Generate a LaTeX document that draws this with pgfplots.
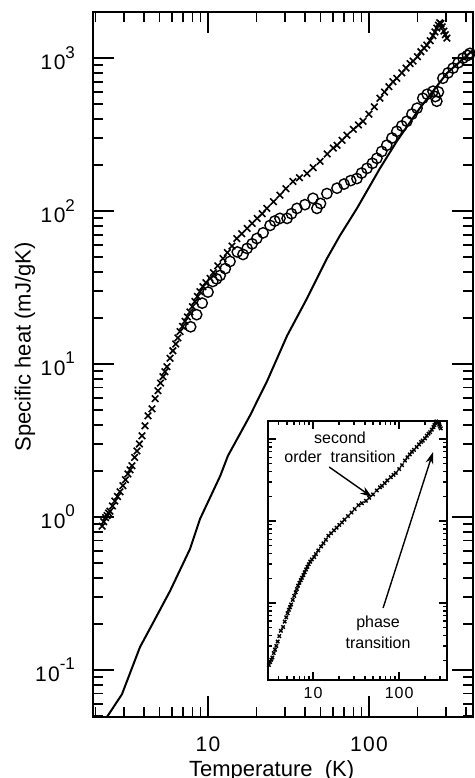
\documentclass[border=0pt]{standalone}
\usepackage{fontspec}
\setmainfont{Liberation Sans}
\usepackage{pgfplots}
\pgfplotsset{compat=1.18}
\usepackage{pgfplotstable}
\usetikzlibrary{arrows.meta}

% tick label like "10^3" with a full-size, raised exponent
\newcommand{\dec}[1]{1\kern0.7pt0\raisebox{0.55em}{\fontsize{8.5}{9}\selectfont #1}}

% sample with the two transitions (crosses)
\pgfplotstableread{
T C
2.20 0.87
2.25 0.93
2.31 0.99
2.36 1.02
2.41 1.06
2.46 1.09
2.55 1.18
2.64 1.27
2.74 1.36
2.84 1.46
2.96 1.60
3.07 1.75
3.18 1.91
3.28 2.03
3.37 2.16
3.50 2.45
3.62 2.70
3.75 3.00
3.89 3.39
4.06 3.94
4.24 4.58
4.49 5.09
4.69 5.93
4.89 6.69
5.07 7.50
5.25 8.26
5.40 8.90
5.56 9.60
5.81 10.9
6.05 12.2
6.30 13.5
6.50 14.8
6.70 16.3
6.95 17.6
7.20 19.0
7.45 20.3
7.73 21.9
8.00 23.7
8.30 25.6
8.60 27.6
8.92 29.7
9.30 32.0
9.70 34.0
10.3 36.3
10.8 39.5
11.5 43.8
12.4 48.9
13.2 53.5
14.1 59.0
15.1 66.1
16.2 71.0
17.5 76.9
18.8 83.0
20.2 89.5
21.7 96.0
23.2 104
25.5 115
28.0 127
30.5 140
33.7 156
37.0 165
41.2 176
45.0 192
49.7 211
55.0 236
60.0 258
63.3 269
68.0 290
73.0 313
80.0 342
86.0 365
91.8 386
100 430
108 480
117 546
125 600
133 650
141 700
149 738
160 800
170 860
180 920
188 955
200 1020
210 1100
220 1160
229 1216
240 1300
250 1400
257 1480
264 1570
270 1640
275 1700
280 1680
285 1600
292 1500
298 1420
305 1350
}\crosses

% second sample (circles)
\pgfplotstableread{
T C
7.8 17.5
8.5 21.0
9.2 25.0
10.0 29.5
10.7 34.6
11.3 36.0
11.9 37.9
12.8 42.0
13.7 46.8
15.2 54.0
16.5 52.0
17.5 56.9
18.8 61.0
20.1 66.1
22.0 72.0
24.3 80.5
26.0 86.0
28.0 89.5
31.0 89.5
33.0 96.0
35.7 104
40.0 110
44.9 121
47.5 104
50.0 112
54.8 130
63.3 141
70.0 150
77.0 158
84.2 163
90.0 177
97.2 190
105 205
112 221
120 245
129 269
139 300
149 332
160 360
172 386
185 430
199 470
216 546
230 580
250 607
258 560
264 522
270 600
288 738
310 800
333 859
358 930
384 998
410 1040
424 1073
445 1110
}\circles

% calculated curve (solid line)
\pgfplotstableread{
T C
2.35 0.049
2.92 0.0693
3.78 0.141
4.69 0.215
5.81 0.328
7.73 0.617
8.92 0.97
11.9 1.85
13.3 2.51
18.2 4.58
23.2 7.66
31.0 15.3
41.2 26.8
54.8 48.9
66.1 69.2
84.2 104
117 190
149 286
207 470
305 796
443 1125
}\calc

\begin{document}
\begin{tikzpicture}
\begin{axis}[name=main,
 xmode=log, ymode=log, scale only axis, width=190pt, height=352.5pt,
 xmin=1.93, xmax=443, ymin=0.0492, ymax=2000,
 axis line style={line width=0.9pt},
 every tick/.style={black, line width=0.8pt},
 tick align=inside, major tick length=10.5pt, minor tick length=5pt,
 xtick={10,100}, xticklabels={1\kern0.7pt0, 1\kern0.7pt0\kern0.7pt0},
 minor xtick={2,3,4,5,6,7,8,9,20,30,40,50,60,70,80,90,200,300,400},
 ytick={0.1,1,10,100,1000},
 yticklabels={\dec{-1},\dec{0},\dec{1},\dec{2},\dec{3}},
 minor ytick={0.05,0.06,0.07,0.08,0.09,0.2,0.3,0.4,0.5,0.6,0.7,0.8,0.9,2,3,4,5,6,7,8,9,20,30,40,50,60,70,80,90,200,300,400,500,600,700,800,900},
 tick label style={font=\fontsize{10.5}{12}\selectfont},
 xticklabel shift=6.5pt, yticklabel shift=5.5pt,
 xlabel={Temperature\ \ (K)}, ylabel={Specific heat (mJ/gK)},
 label style={font=\fontsize{11}{13}\selectfont},
 xlabel style={at={(axis description cs:0.47,0)}, anchor=north, inner sep=0pt, yshift=-21.5pt},
 ylabel style={at={(axis description cs:-0.179,0.525)}, anchor=center},
]
\addplot[only marks, mark=x, mark size=2.3pt, line width=0.8pt] table {\crosses};
\addplot[only marks, mark=o, mark size=2.6pt, line width=0.7pt] table {\circles};
\addplot[mark=none, line width=1pt] table {\calc};
\end{axis}

\begin{axis}[at={(main.south west)}, anchor=south west, xshift=87.5pt, yshift=18.5pt,
 xmode=log, ymode=log, scale only axis, width=89.5pt, height=129.5pt,
 xmin=3, xmax=360, ymin=1.15, ymax=1660,
 axis background/.style={fill=white},
 axis line style={line width=0.8pt},
 every tick/.style={black, line width=0.7pt},
 tick align=inside, major tick length=4pt, minor tick length=2pt,
 xtick={10,100}, xticklabels={1\kern0.5pt0, 1\kern0.5pt0\kern0.5pt0},
 minor xtick={4,5,6,7,8,9,20,30,40,50,60,70,80,90,200,300},
 ytick={10,100,1000}, yticklabels={},
 minor ytick={2,3,4,5,6,7,8,9,20,30,40,50,60,70,80,90,200,300,400,500,600,700,800,900},
 tick label style={font=\fontsize{8}{9}\selectfont},
]
\addplot[only marks, mark=x, mark size=1.2pt, line width=0.7pt] table {\crosses};
\node[font=\fontsize{8}{9}\selectfont] at (axis cs:20.6,1028) {second};
\node[font=\fontsize{8}{9}\selectfont] at (axis cs:20.6,604) {order\ \ transition};
\node[font=\fontsize{8}{9}\selectfont] at (axis cs:57,5.7) {phase};
\node[font=\fontsize{8}{9}\selectfont] at (axis cs:57,3.25) {transition};
\draw[line width=0.7pt, -{Stealth[length=6pt,width=4pt]}] (axis cs:15.4,456) -- (axis cs:48.5,196);
\draw[line width=0.7pt, -{Stealth[length=6pt,width=4pt]}] (axis cs:65.2,8.7) -- (axis cs:248,694);
\end{axis}

\pgfresetboundingbox
\path ([shift={(-46.5pt,-30.5pt)}]main.south west) rectangle ([shift={(0.5pt,6pt)}]main.north east);
\end{tikzpicture}
\end{document}
